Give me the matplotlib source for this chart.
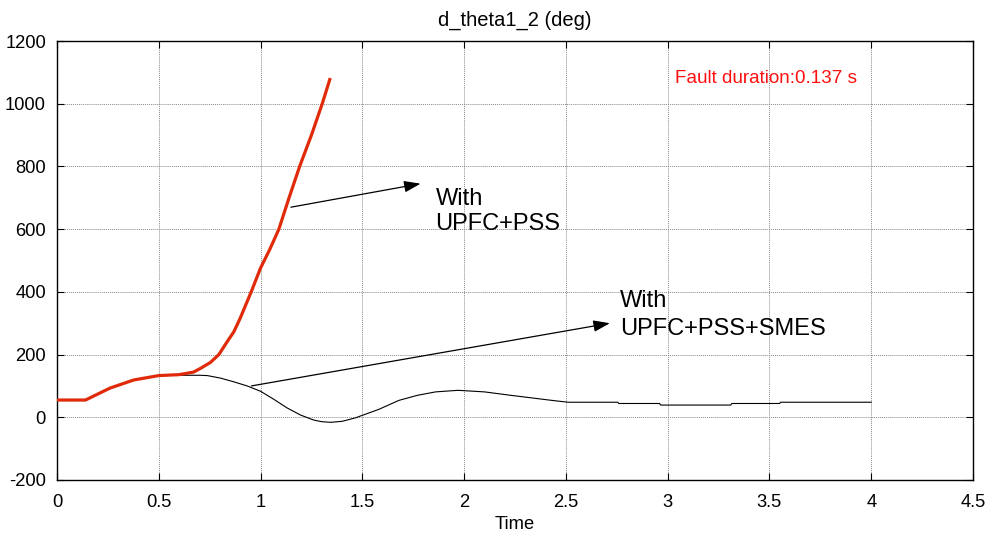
import matplotlib
matplotlib.use("Agg")
import matplotlib.pyplot as plt

plt.rcParams['font.family'] = ['Liberation Sans', 'DejaVu Sans']
plt.rcParams['axes.unicode_minus'] = False

# Data
t_pss = [0, 0.14, 0.26, 0.377, 0.5, 0.6, 0.67, 0.705, 0.754, 0.795, 0.836, 0.869,
         0.9, 0.954, 1.0, 1.045, 1.09, 1.14, 1.192, 1.25, 1.303, 1.34]
y_pss = [55, 55, 93, 119, 133, 136, 144, 156, 175, 200, 241, 273,
         316, 400, 476, 535, 600, 700, 800, 900, 1000, 1077]

t_smes = [0, 0.14, 0.26, 0.377, 0.5, 0.6, 0.7, 0.738, 0.803, 0.869, 0.934, 1.0,
          1.066, 1.13, 1.197, 1.262, 1.30, 1.344, 1.40, 1.465, 1.58, 1.68, 1.77,
          1.86, 1.97, 2.10, 2.23, 2.43, 2.51, 2.755, 2.76, 2.96, 2.965, 3.31,
          3.315, 3.55, 3.555, 4.0]
y_smes = [55, 55, 93, 119, 133, 134, 134, 133, 125, 113, 100, 83,
          57, 30, 7, -9, -14, -16, -13, -2, 25, 54, 70,
          81, 86, 81, 70, 54, 48, 48, 44, 44, 39, 39,
          44, 44, 48, 48]

xticks = [0, 0.5, 1, 1.5, 2, 2.5, 3, 3.5, 4, 4.5]
xticklabels = ['0', '0.5', '1', '1.5', '2', '2.5', '3', '3.5', '4', '4.5']
yticks = [-200, 0, 200, 400, 600, 800, 1000, 1200]

fig = plt.figure(figsize=(9.95, 5.36), dpi=100)
ax = fig.add_axes([57/995, 1-480/536, (973-57)/995, (480-41)/536])

ax.plot(t_smes, y_smes, color='black', lw=0.8, zorder=3)
ax.plot(t_pss, y_pss, color='#E02A0A', lw=2.3, zorder=4)

ax.set_xlim(0, 4.5)
ax.set_ylim(-200, 1200)
ax.set_xticks(xticks)
ax.set_xticklabels(xticklabels)
ax.set_yticks(yticks)
ax.tick_params(direction='in', top=True, right=True, length=5, width=0.8,
               labelsize=13.2, pad=8)
ax.tick_params(axis='x', pad=10)
ax.grid(True, color='#8a8a8a', linestyle=(0, (1, 1)), lw=0.7)
for s in ax.spines.values():
    s.set_linewidth(1.0)

ax.set_title('d_theta1_2 (deg)', fontsize=14.5, pad=11)
ax.set_xlabel('Time', fontsize=13.2, labelpad=4)

ax.text(3.035, 1081, 'Fault duration:0.137 s', color='#FF1010', fontsize=13.6,
        ha='left', va='center')

ax.annotate('', xy=(1.786, 745), xytext=(1.149, 670),
            arrowprops=dict(arrowstyle='-|>,head_length=1.0,head_width=0.35',
                            color='black', lw=0.9, shrinkA=0, shrinkB=0))
ax.annotate('', xy=(2.716, 300), xytext=(0.955, 100),
            arrowprops=dict(arrowstyle='-|>,head_length=1.0,head_width=0.35',
                            color='black', lw=0.9, shrinkA=0, shrinkB=0))

ax.text(1.86, 678, 'With', fontsize=17, ha='left', va='baseline')
ax.text(1.86, 596, 'UPFC+PSS', fontsize=17, ha='left', va='baseline')
ax.text(2.765, 353, 'With', fontsize=17, ha='left', va='baseline')
ax.text(2.765, 262, 'UPFC+PSS+SMES', fontsize=17, ha='left', va='baseline')

fig.savefig('out.png', dpi=100)
